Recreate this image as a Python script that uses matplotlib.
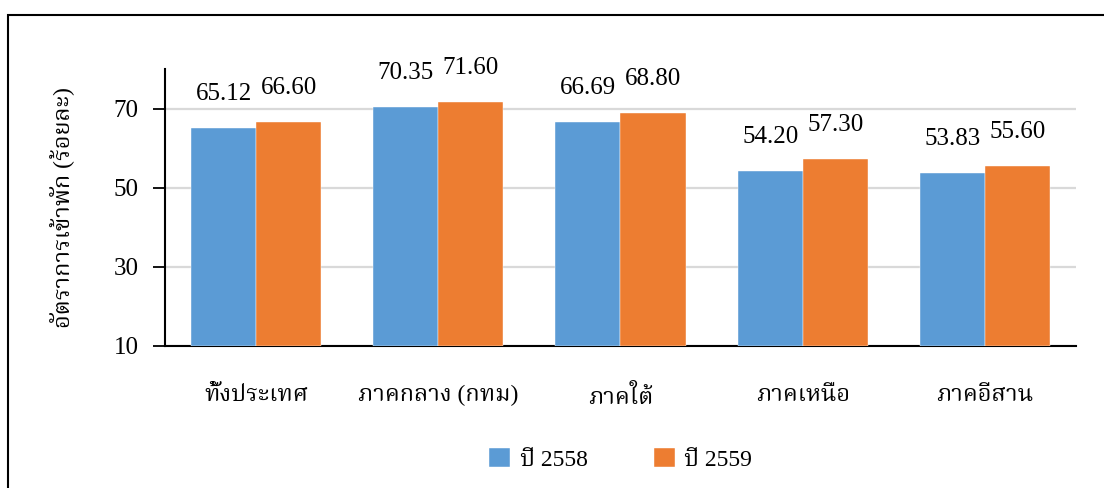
import matplotlib
matplotlib.use("Agg")
import matplotlib.pyplot as plt
import numpy as np
from matplotlib import font_manager
from matplotlib.ft2font import FT2Font
from matplotlib.patches import Rectangle

# Occupancy rate by region, two years
regions = ["ทั้งประเทศ", "ภาคกลาง (กทม)", "ภาคใต้", "ภาคเหนือ", "ภาคอีสาน"]
series_names = ["ปี 2558", "ปี 2559"]
rate_2558 = [65.12, 70.35, 66.69, 54.20, 53.83]
rate_2559 = [66.60, 71.60, 68.80, 57.30, 55.60]
y_ticks = [10, 30, 50, 70]
y_label = "อัตราการเข้าพัก (ร้อยละ)"

colors = ["#5B9BD5", "#ED7D31"]


def find_thai_font():
    """Return the family name of an installed font that covers Thai glyphs."""
    candidates = []
    for f in font_manager.fontManager.ttflist:
        try:
            cmap = FT2Font(f.fname).get_charmap()
        except Exception:
            continue
        if 0x0E01 in cmap and 0x0E34 in cmap:
            candidates.append(f.name)
    if not candidates:
        return None
    prefs = ["Serif Thai", "Thai", "Garuda", "Loma", "Norasi", "Kinnari"]
    for p in prefs:
        for c in candidates:
            if p in c:
                return c
    return candidates[0]


thai = find_thai_font()
fam = ["Liberation Serif"] + ([thai] if thai else []) + ["DejaVu Sans"]
plt.rcParams["font.family"] = fam

W, H = 1104, 488
fig = plt.figure(figsize=(W / 100, H / 100), dpi=100)
ax = fig.add_axes([165 / W, 1 - 346 / H, (1076 - 165) / W, (346 - 69) / H])

x = np.arange(len(regions))
bw = 0.357
for i, (vals, c, name) in enumerate(zip([rate_2558, rate_2559], colors, series_names)):
    offs = (i - 0.5) * bw
    ax.bar(x + offs, np.array(vals) - 10, bw, bottom=10, color=c,
           edgecolor="white", linewidth=0.3, label=name, zorder=3)
    for xi, v in zip(x, vals):
        ax.annotate(f"{v:.2f}", (xi + offs, v), xytext=(0, 24.5),
                    textcoords="offset points", ha="center", va="center",
                    fontsize=18, zorder=4)

ax.set_xlim(-0.5, len(regions) - 0.5)
ax.set_ylim(10, 80)
ax.set_yticks(y_ticks)
ax.set_yticklabels([str(t) for t in y_ticks], fontsize=18)
ax.set_xticks(x)
ax.set_xticklabels(regions, fontsize=17)
ax.tick_params(axis="x", length=0, pad=28)
ax.tick_params(axis="y", length=9, width=1.3, direction="out", pad=10)

ax.yaxis.grid(True, color="#D9D9D9", linewidth=1.6, zorder=0)
ax.set_axisbelow(True)
for s in ["top", "right"]:
    ax.spines[s].set_visible(False)
for s in ["left", "bottom"]:
    ax.spines[s].set_linewidth(1.5)
    ax.spines[s].set_color("black")

ax.set_ylabel(y_label, fontsize=17, labelpad=28)

ax.legend(loc="upper center", bbox_to_anchor=(0.5, -0.29), ncol=2,
          frameon=False, fontsize=17, handlelength=0.9, handleheight=0.9,
          columnspacing=2.8, handletextpad=0.4)

# Outer frame (its right and bottom edges fall outside the image)
fig.add_artist(Rectangle((8 / W, -0.5), 2.0, 1 - 15 / H + 0.5,
                         transform=fig.transFigure, fill=False,
                         edgecolor="black", linewidth=1.5, clip_on=False))

fig.savefig("out.png", dpi=100)
